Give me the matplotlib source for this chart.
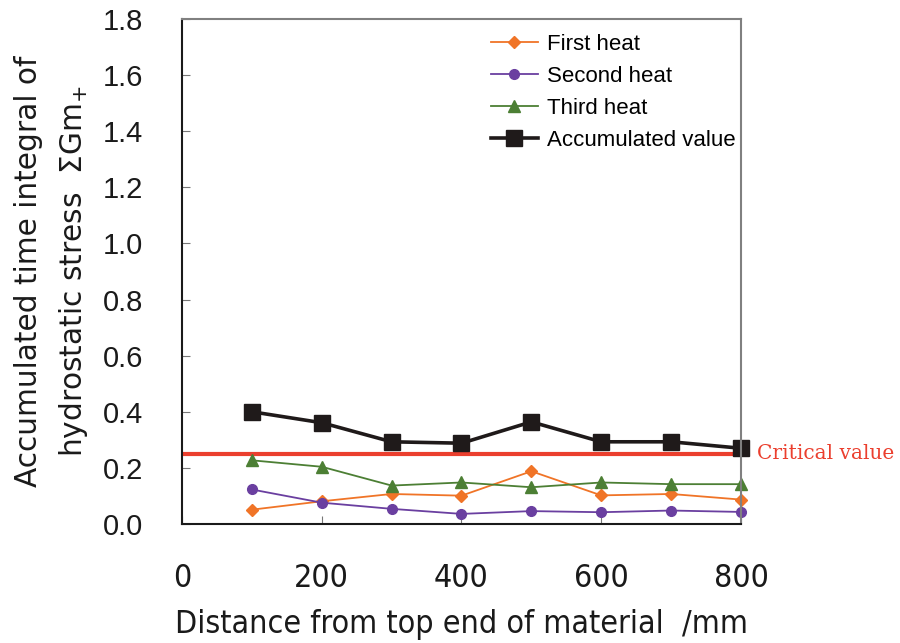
import matplotlib
matplotlib.use("Agg")
import matplotlib.pyplot as plt

distance = [100, 200, 300, 400, 500, 600, 700, 800]
first_heat = [0.051, 0.081, 0.107, 0.101, 0.188, 0.102, 0.107, 0.087]
second_heat = [0.123, 0.076, 0.054, 0.036, 0.046, 0.042, 0.048, 0.043]
third_heat = [0.227, 0.204, 0.137, 0.148, 0.131, 0.148, 0.142, 0.142]
accumulated = [0.400, 0.361, 0.293, 0.288, 0.364, 0.293, 0.293, 0.270]
critical_value = 0.25
x_ticks = [0, 200, 400, 600, 800]
y_ticks = [0.0, 0.2, 0.4, 0.6, 0.8, 1.0, 1.2, 1.4, 1.6, 1.8]

fig = plt.figure(figsize=(9, 6.43), dpi=100)
ax = fig.add_axes([182/900, 1-524/643, (741-182)/900, (524-19)/643])

ax.plot(distance, first_heat, color="#F07427", marker="D", markersize=6.5, lw=1.3, label="First heat", clip_on=False)
ax.plot(distance, second_heat, color="#6A3FA0", marker="o", markersize=7, lw=1.3, label="Second heat", clip_on=False)
ax.plot(distance, third_heat, color="#4C7F34", marker="^", markersize=8.5, lw=1.3, label="Third heat", clip_on=False)
ax.plot(distance, accumulated, color="#1F1A1A", marker="s", markersize=11, lw=2.6, label="Accumulated value", clip_on=False)
ax.axhline(critical_value, color="#EB3F2E", lw=3, zorder=1)
ax.text(1.028, critical_value, "Critical value", transform=ax.get_yaxis_transform(),
        color="#EB3F2E", fontsize=14.5, family="DejaVu Serif", va="center", ha="left")

ax.set_xlim(0, 800)
ax.set_ylim(0, 1.8)
ax.set_xticks(x_ticks)
ax.set_yticks(y_ticks)
ax.set_yticklabels([f"{v:.1f}" for v in y_ticks], fontsize=21, family="Liberation Sans")
xkw = dict(family="DejaVu Sans", stretch="condensed")
ax.set_xticklabels([str(v) for v in x_ticks], fontsize=23, **xkw)
ax.tick_params(axis="y", direction="in", length=6, color="#777777", pad=28, labelcolor="#1a1a1a")
ax.tick_params(axis="x", direction="in", length=6, color="#777777", pad=28, labelcolor="#1a1a1a")

for s in ["left", "bottom"]:
    ax.spines[s].set_color("#1a1a1a")
    ax.spines[s].set_linewidth(1.5)
for s in ["top", "right"]:
    ax.spines[s].set_color("#808080")
    ax.spines[s].set_linewidth(1.5)

ax.set_xlabel("Distance from top end of material  /mm", fontsize=23,
              labelpad=11, color="#1a1a1a", **xkw)
ax.set_ylabel("Accumulated time integral of\nhydrostatic stress  \u03a3Gm$_{+}$", fontsize=21.3,
              family="DejaVu Sans", labelpad=9, color="#1a1a1a", linespacing=1.55)

leg = ax.legend(loc="upper right", bbox_to_anchor=(1.0215, 1.006), frameon=False,
                handlelength=2.1, handletextpad=0.4, labelspacing=0.5, borderaxespad=0.4,
                prop={"family": "Liberation Sans", "size": 16})

fig.savefig("out.png", dpi=100)
